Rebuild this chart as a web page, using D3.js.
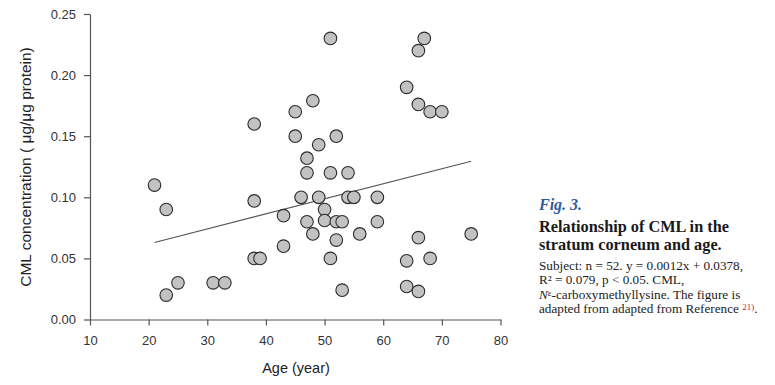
<!DOCTYPE html>
<html>
<head>
    <meta charset="utf-8">
    <title>CML vs age</title>
    <style>
        html, body { margin: 0; padding: 0; background: #fff; }
        svg { display: block; }
        .axis text { font-family: Arial, "Liberation Sans", sans-serif; font-size: 13px; fill: #333; }
        .axis path, .axis line { stroke: #555; stroke-width: 1.2px; }
        .cap { font-family: "Liberation Serif", "Times New Roman", serif; }
    </style>
    <script src="https://d3js.org/d3.v7.min.js"></script>
</head>
<body>
<script>
    // ages and CML values
    var ages = [21, 23, 23, 25, 31, 33, 38, 38, 38, 39, 43, 43, 45, 45, 46, 47, 47, 47, 48, 48,
                49, 49, 50, 50, 51, 51, 51, 52, 52, 52, 53, 53, 54, 54, 55, 56, 59, 59, 64, 64,
                64, 66, 66, 66, 66, 67, 68, 68, 70, 75];
    var cml = [0.110, 0.090, 0.020, 0.030, 0.030, 0.030, 0.160, 0.097, 0.050, 0.050, 0.085, 0.060, 0.170, 0.150, 0.100, 0.132, 0.120, 0.080, 0.179, 0.070,
               0.143, 0.100, 0.090, 0.081, 0.230, 0.120, 0.050, 0.150, 0.080, 0.065, 0.080, 0.024, 0.120, 0.100, 0.100, 0.070, 0.100, 0.080, 0.190, 0.048,
               0.027, 0.220, 0.176, 0.067, 0.023, 0.230, 0.170, 0.050, 0.170, 0.070];
    // regression line end points
    var fitAge = [21, 75];
    var fitCml = [0.0630, 0.1295];

    var xTicks = [10, 20, 30, 40, 50, 60, 70, 80];
    var yTicks = [0, 0.05, 0.10, 0.15, 0.20, 0.25];

    var captionLines = [
        "Subject: n = 52. y = 0.0012x + 0.0378,",
        "R\u00b2 = 0.079, p < 0.05. CML,"
    ];

    var svg = d3.select("body").append("svg")
        .attr("width", 775)
        .attr("height", 385);

    var x = d3.scaleLinear().domain([10, 80]).range([90, 500.5]);
    var y = d3.scaleLinear().domain([0, 0.25]).range([319.5, 14]);

    svg.append("g")
        .attr("class", "axis")
        .attr("transform", "translate(0,319.5)")
        .call(d3.axisBottom(x).tickValues(xTicks).tickSize(6).tickSizeOuter(0).tickPadding(8))
        .selectAll("text").attr("dy", "0.9em");

    svg.append("g")
        .attr("class", "axis")
        .attr("transform", "translate(90,0)")
        .call(d3.axisLeft(y).tickValues(yTicks).tickSize(6).tickSizeOuter(0).tickPadding(8)
            .tickFormat(d3.format(".2f")));

    // regression line
    var fit = fitAge.map(function(a, i) { return [a, fitCml[i]]; });
    svg.append("path")
        .attr("d", d3.line().x(function(d) { return x(d[0]); }).y(function(d) { return y(d[1]); })(fit))
        .attr("fill", "none")
        .attr("stroke", "#555")
        .attr("stroke-width", 1.2);

    svg.selectAll("circle.pt").data(ages)
        .enter().append("circle")
        .attr("class", "pt")
        .attr("cx", function(d) { return x(d); })
        .attr("cy", function(d, i) { return y(cml[i]); })
        .attr("r", 6.3)
        .attr("fill", "#c2c2c2")
        .attr("stroke", "#2a2a2a")
        .attr("stroke-width", 1.1);

    // axis titles
    svg.append("text")
        .attr("x", 296).attr("y", 373)
        .attr("text-anchor", "middle")
        .style("font-family", "Arial, 'Liberation Sans', sans-serif")
        .style("font-size", "14.5px")
        .attr("fill", "#222")
        .text("Age (year)");

    svg.append("text")
        .attr("transform", "translate(31,167) rotate(-90)")
        .attr("text-anchor", "middle")
        .style("font-family", "Arial, 'Liberation Sans', sans-serif")
        .style("font-size", "15.5px")
        .attr("fill", "#222")
        .text("CML concentration ( \u03bcg/\u03bcg protein)");

    // caption
    var cap = svg.append("g").attr("class", "cap");
    cap.append("text")
        .attr("x", 539).attr("y", 210)
        .style("font-size", "16px").style("font-style", "italic").style("font-weight", "bold")
        .attr("fill", "#2e5f9c")
        .text("Fig. 3.");
    cap.append("text")
        .attr("x", 539).attr("y", 232)
        .style("font-size", "16.3px").style("font-weight", "bold")
        .attr("fill", "#1a1a1a")
        .text("Relationship of CML in the");
    cap.append("text")
        .attr("x", 539).attr("y", 250)
        .style("font-size", "16.3px").style("font-weight", "bold")
        .attr("fill", "#1a1a1a")
        .text("stratum corneum and age.");

    cap.selectAll("text.body").data(captionLines)
        .enter().append("text")
        .attr("class", "body")
        .attr("x", 539)
        .attr("y", function(d, i) { return 270 + i * 14; })
        .style("font-size", "13.2px")
        .attr("fill", "#222")
        .text(function(d) { return d; });

    var l3 = cap.append("text")
        .attr("x", 539).attr("y", 298.5)
        .style("font-size", "13.2px")
        .attr("fill", "#222");
    l3.append("tspan").style("font-style", "italic").text("N");
    l3.append("tspan").attr("dy", -3).style("font-size", "9px").text("\u03b5");
    l3.append("tspan").attr("dy", 3).text("-carboxymethyllysine. The figure is");

    var l4 = cap.append("text")
        .attr("x", 539).attr("y", 313)
        .style("font-size", "13.2px")
        .attr("fill", "#222");
    l4.append("tspan").text("adapted from adapted from Reference ");
    l4.append("tspan").attr("dy", -3.5).style("font-size", "9px").attr("fill", "#c0283c").text("21)");
    l4.append("tspan").attr("dy", 3.5).text(".");
</script>
</body>
</html>
